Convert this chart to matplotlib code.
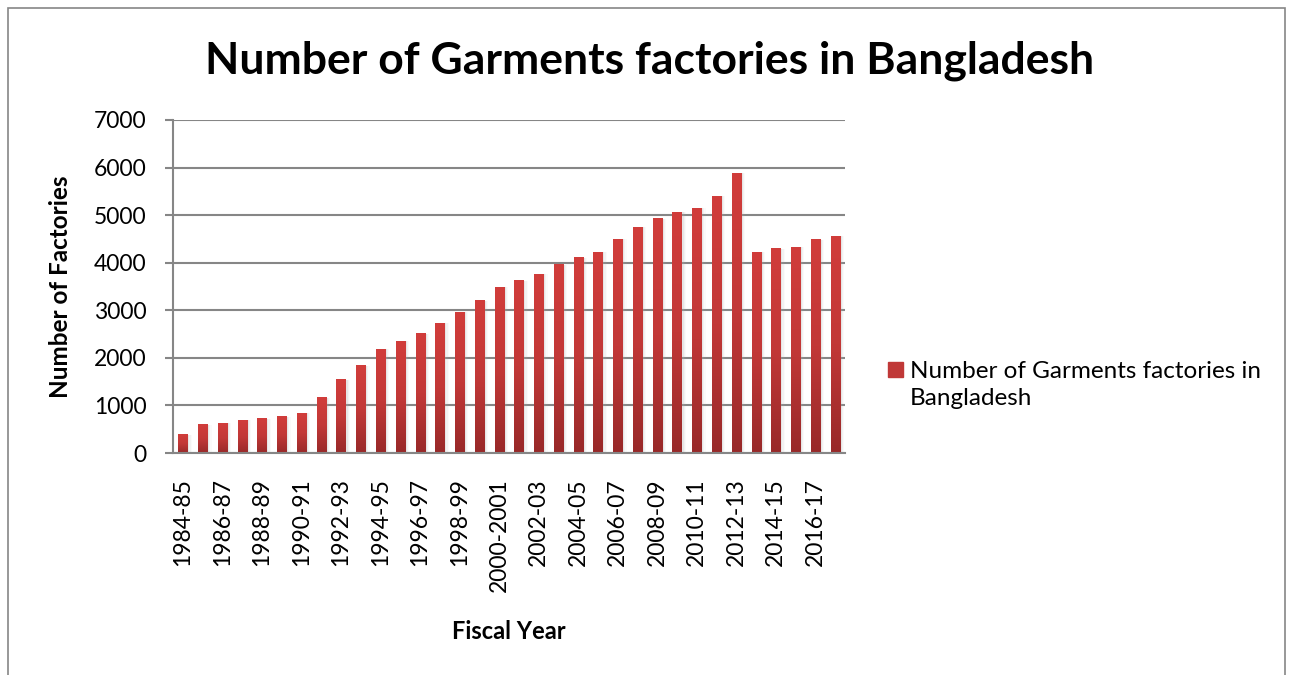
import numpy as np
import matplotlib
matplotlib.use('Agg')
import matplotlib.pyplot as plt
from matplotlib.colors import LinearSegmentedColormap
from matplotlib.patches import Rectangle

years = ['1984-85', '1985-86', '1986-87', '1987-88', '1988-89', '1989-90',
         '1990-91', '1991-92', '1992-93', '1993-94', '1994-95', '1995-96',
         '1996-97', '1997-98', '1998-99', '1999-2000', '2000-2001', '2001-02',
         '2002-03', '2003-04', '2004-05', '2005-06', '2006-07', '2007-08',
         '2008-09', '2009-10', '2010-11', '2011-12', '2012-13', '2013-14',
         '2014-15', '2015-16', '2016-17', '2017-18']
factories = [384, 594, 629, 685, 725, 759, 834, 1163, 1537, 1839, 2182, 2353,
             2503, 2726, 2963, 3200, 3480, 3618, 3760, 3957, 4107, 4220, 4490,
             4743, 4925, 5063, 5150, 5400, 5876, 4222, 4296, 4328, 4482, 4560]
y_ticks = [0, 1000, 2000, 3000, 4000, 5000, 6000, 7000]

series_name = 'Number of Garments factories in Bangladesh'
plt.rcParams['font.family'] = ['Lato', 'DejaVu Sans']

grid_c = '#868686'
bar_cmap = LinearSegmentedColormap.from_list('bar', ['#982929', '#c23837', '#d13d3b'])

fig = plt.figure(figsize=(12.92, 6.75), dpi=100)
ax = fig.add_axes([173 / 1292, 1 - 453 / 675, 672 / 1292, 333 / 675])

x = np.arange(len(years))
width = 0.46

# soft shadow behind each bar
for dx, a in [(0.10, 0.18), (0.16, 0.10), (0.22, 0.05)]:
    ax.bar(x + dx, factories, width=width, color='#b0b0b0', alpha=a,
           zorder=2, linewidth=0)

# gradient-filled bars
grad = np.linspace(0, 1, 256).reshape(-1, 1)
for xi, v in zip(x, factories):
    ax.imshow(grad, cmap=bar_cmap, origin='lower', aspect='auto',
              extent=(xi - width / 2, xi + width / 2, 0, v), zorder=3,
              interpolation='bilinear')

ax.set_xlim(-0.5, len(years) - 0.5)
ax.set_ylim(0, 7000)
ax.set_yticks(y_ticks)
ax.set_yticklabels([str(t) for t in y_ticks], fontsize=16.5)
ax.set_xticks(x[::2])
ax.set_xticklabels(years[::2], rotation=90, fontsize=16.5)
ax.tick_params(axis='x', length=0, pad=18)
ax.tick_params(axis='y', length=6, color=grid_c, width=1.5, pad=13)

ax.grid(axis='y', color=grid_c, linewidth=1.5, zorder=1)
ax.set_axisbelow(True)
for s in ['top', 'right']:
    ax.spines[s].set_visible(False)
for s in ['left', 'bottom']:
    ax.spines[s].set_color(grid_c)
    ax.spines[s].set_linewidth(1.5)
    ax.spines[s].set_zorder(4)

ax.set_ylabel('Number of Factories', fontsize=17.5, fontweight='bold')
ax.yaxis.set_label_coords(-0.1667, 0.5)
ax.set_xlabel('Fiscal Year', fontsize=17, fontweight='bold')
ax.xaxis.set_label_coords(0.5, -0.5375)
ax.xaxis.label.set_va('center')
ax.yaxis.label.set_va('center')

fig.text(650 / 1292, 1 - 61 / 675, series_name, ha='center', va='center',
         fontsize=32, fontweight='bold')

# legend
fig.patches.append(Rectangle((888 / 1292, 1 - 377 / 675), 15 / 1292, 15 / 675,
                             transform=fig.transFigure, color='#c03837'))
fig.text(910 / 1292, 1 - 385 / 675, 'Number of Garments factories in\nBangladesh',
         ha='left', va='center', fontsize=17.5, linespacing=1.3)

# outer chart border
fig.patches.append(Rectangle((8 / 1292, -0.1), 1277 / 1292, 1.1 - 8 / 675,
                             transform=fig.transFigure, fill=False,
                             edgecolor=grid_c, linewidth=1.2))

fig.savefig('out.png', dpi=100)
